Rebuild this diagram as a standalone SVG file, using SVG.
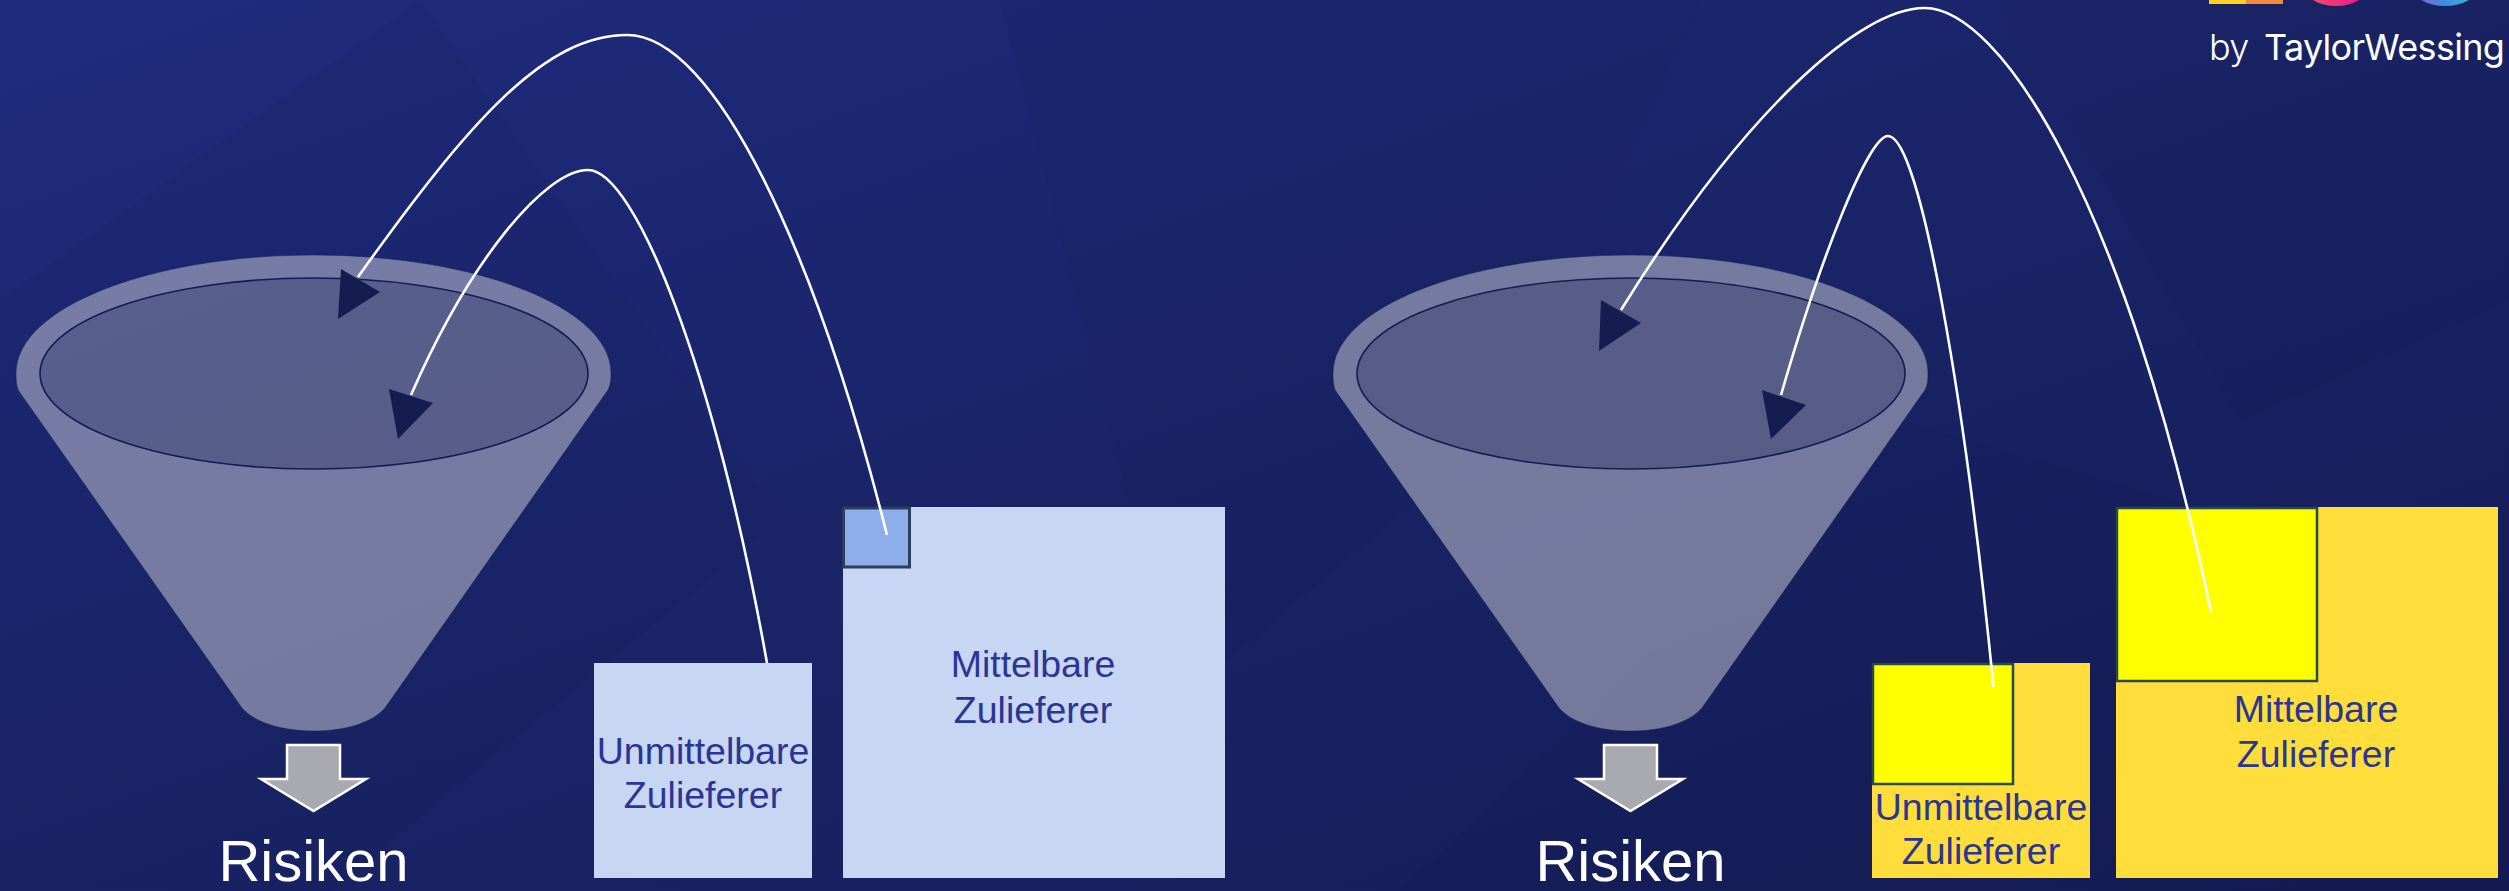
<svg xmlns="http://www.w3.org/2000/svg" width="2509" height="891" viewBox="0 0 2509 891">
<style>
.lbl{font-family:"Liberation Sans",Arial,sans-serif;font-size:37.500px;fill:#2b3595;text-anchor:middle}
.ris{font-family:"Liberation Sans",Arial,sans-serif;font-size:58px;fill:#fff;text-anchor:middle}
.wire{fill:none;stroke:#fff;stroke-width:2.6}
.head{fill:#141c50}
.outer{fill:#d2d2dc;fill-opacity:.5;stroke:#141c50;stroke-opacity:.5;stroke-width:1}
.inner{fill:#141c50;fill-opacity:.3;stroke:#141c50;stroke-width:1.6}
.down{fill:#a9aab0;stroke:#fff;stroke-width:2.5}
.pale{fill:#c6d6f3}
.gold{fill:#ffde3b}
.lem{fill:#ffff00;stroke:#2a4a4a;stroke-width:2.5}
.facet{fill:#0c1240;fill-opacity:.05}
.logo{font-family:Inter,"Liberation Sans",sans-serif;font-size:36px;fill:#fff;letter-spacing:-.7px}
</style>
<defs>
<linearGradient id="bg" x1="0" y1="0" x2="1" y2="1">
<stop offset="0" stop-color="#1f2b7e"/><stop offset=".45" stop-color="#1a2468"/><stop offset="1" stop-color="#151c54"/>
</linearGradient>
<linearGradient id="pink"><stop offset="0" stop-color="#f0556a"/><stop offset="1" stop-color="#e8128f"/></linearGradient>
<linearGradient id="blue"><stop offset="0" stop-color="#8a5cc8"/><stop offset=".5" stop-color="#3f8fe0"/><stop offset="1" stop-color="#2fc0c8"/></linearGradient>
<g id="funnelShape">
<path class="outer" d="M18,390 C16,384 16,378 16,373 C16,308 149,255 313.500,255 C478,255 611,308 611,373 C611,378 611,384 608,390 L385,708 C372,723 345,731 313.500,731 C282,731 255,723 242,708 Z"/>
<ellipse class="inner" cx="314" cy="373.500" rx="274" ry="95.500"/>
<path class="down" d="M287,745 H340 V779 H366 L313.500,811 L261,779 H287 Z"/>
</g>
</defs>
<rect width="2509" height="891" fill="url(#bg)"/>
<g id="background-facets">
<path class="facet" d="M0,300 L420,0 L780,520 L330,891 L0,891 Z"/>
<path class="facet" d="M1000,0 L1700,0 L1500,430 L1180,700 Z"/>
<path class="facet" d="M1400,891 L1900,420 L2509,600 L2509,891 Z"/>
<path class="facet" d="M2000,0 L2509,0 L2509,300 L2240,420 Z"/>
</g>
<g id="funnel-left"><use href="#funnelShape"/><text class="ris" x="313.500" y="881">Risiken</text></g>
<g id="funnel-right"><use href="#funnelShape" x="1317"/><text class="ris" x="1630.500" y="881">Risiken</text></g>
<g id="box-left-direct"><rect class="pale" x="594" y="663" width="218" height="215"/><text class="lbl" x="703" y="764">Unmittelbare</text><text class="lbl" x="703" y="808">Zulieferer</text></g>
<g id="box-left-indirect"><rect class="pale" x="843" y="507" width="382" height="371"/><rect x="843.500" y="508" width="66" height="59" fill="#8fade8" stroke="#2a3f5f" stroke-width="3"/><text class="lbl" x="1033" y="677">Mittelbare</text><text class="lbl" x="1033" y="723">Zulieferer</text></g>
<g id="box-right-direct"><rect class="gold" x="1872" y="663" width="218" height="215"/><rect class="lem" x="1873" y="664" width="140" height="120"/><text class="lbl" x="1981" y="820">Unmittelbare</text><text class="lbl" x="1981" y="864">Zulieferer</text></g>
<g id="box-right-indirect"><rect class="gold" x="2116" y="507" width="382" height="371"/><rect class="lem" x="2117" y="508" width="200" height="173"/><text class="lbl" x="2316" y="722">Mittelbare</text><text class="lbl" x="2316" y="767">Zulieferer</text></g>
<g id="connectors">
<path class="wire" d="M887,535 C815,250 715,35 627,35 C545,35 470,120 358,277"/>
<polygon class="head" points="341,269 380,292 338,319"/>
<path class="wire" d="M767,663 C715,370 635,170 588,170 C545,170 470,260 411,395"/>
<polygon class="head" points="389,389 433,403 398,439"/>
<path class="wire" d="M2211,612 C2125,200 2000,8 1924.500,8 C1860,8 1745,110 1621,310"/>
<polygon class="head" points="1601,300 1641,323 1599,351"/>
<path class="wire" d="M1993.500,687 C1965,400 1920,136 1888,136 C1868,136 1820,260 1781,395"/>
<polygon class="head" points="1762,390 1806,405 1771,439"/>
</g>
<g id="logo">
<rect x="2209" y="0" width="37" height="4" fill="#ffd21f"/><rect x="2246" y="0" width="37" height="4" fill="#f28a3c"/>
<ellipse cx="2336" cy="-14" rx="32" ry="20" fill="url(#pink)"/>
<ellipse cx="2445" cy="-14" rx="33" ry="20" fill="url(#blue)"/>
<text class="logo" x="2209" y="60" font-weight="300">by</text>
<text class="logo" x="2264" y="60" font-weight="400">TaylorWessing</text>
</g>
</svg>
